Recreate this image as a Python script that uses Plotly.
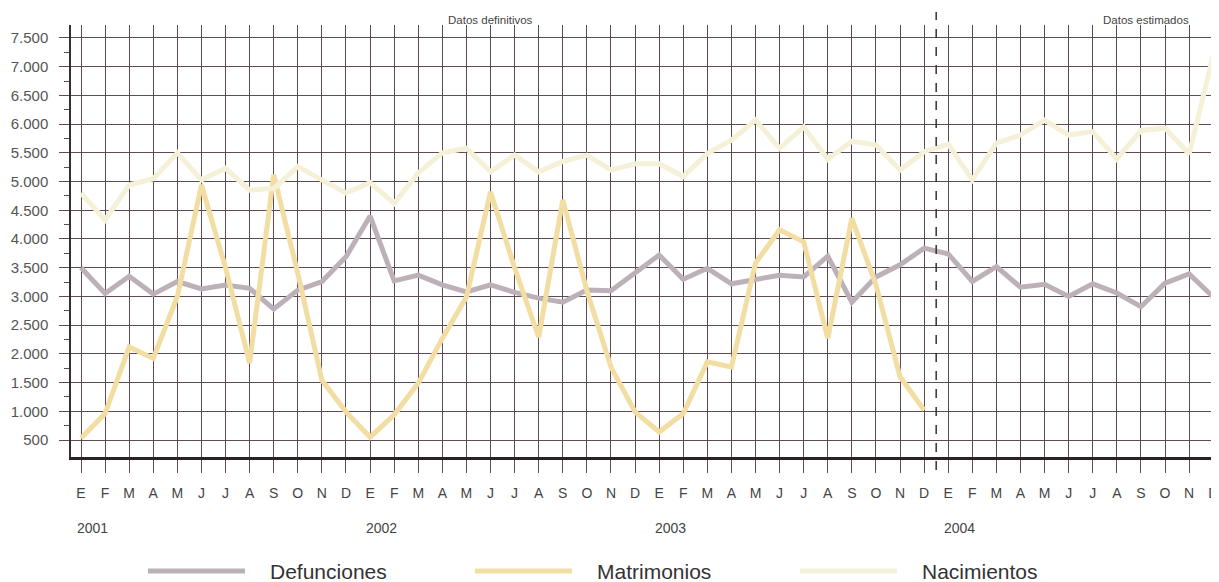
import plotly.graph_objects as go

months = ["E", "F", "M", "A", "M", "J", "J", "A", "S", "O", "N", "D"] * 4
years = ["2001", "2002", "2003", "2004"]

defunciones = [3500, 3050, 3350, 3040, 3260, 3130, 3200, 3140, 2780, 3110, 3260, 3690,
               4400, 3270, 3370, 3200, 3080, 3200, 3070, 2970, 2900, 3110, 3100, 3400,
               3720, 3300, 3490, 3220, 3290, 3370, 3340, 3700, 2900, 3340, 3550, 3840,
               3740, 3260, 3520, 3160, 3210, 3000, 3220, 3060, 2820, 3230, 3390, 2990]

matrimonios = [530, 960, 2120, 1920, 3000, 4940, 3500, 1840, 5120, 3400, 1540, 990,
               550, 940, 1490, 2270, 2990, 4820, 3500, 2290, 4680, 3100, 1770, 990,
               640, 960, 1860, 1770, 3580, 4160, 3950, 2270, 4360, 3200, 1600, 1020]

nacimientos = [4800, 4330, 4940, 5050, 5500, 5030, 5230, 4850, 4880, 5260, 5030, 4800,
               4980, 4620, 5150, 5500, 5580, 5170, 5460, 5170, 5350, 5460, 5200, 5310,
               5310, 5090, 5490, 5720, 6070, 5580, 5950, 5390, 5700, 5640, 5200, 5520,
               5650, 5030, 5670, 5810, 6070, 5810, 5870, 5390, 5890, 5930, 5480, 7200]

y_ticks = [500, 1000, 1500, 2000, 2500, 3000, 3500, 4000, 4500, 5000, 5500, 6000, 6500, 7000, 7500]
y_labels = ["500", "1.000", "1.500", "2.000", "2.500", "3.000", "3.500", "4.000",
            "4.500", "5.000", "5.500", "6.000", "6.500", "7.000", "7.500"]

series_names = ["Defunciones", "Matrimonios", "Nacimientos"]
colors = ["#bdb1b9", "#f2dda2", "#f5f1d9"]

GRID = "#5c4a55"
TEXT = "#444444"
FONT = "Liberation Sans, Arial, sans-serif"
NARROW = "Liberation Sans Narrow, Arial Narrow, " + FONT

# page body has an 8px margin: figure is offset by (8, 8) in the window
OFF = 8
W, H = 1219 - OFF, 582 - OFF
PL, PT, PB, PR = 71, 25, 457, 1219          # plot-area edges in window pixels
PW, PH = PR - PL, PB - PT


def px(xw):
    return (xw - PL) / PW


def py(yw):
    return (PB - yw) / PH


x_idx = list(range(len(months)))

fig = go.Figure()
for name, vals, col in zip(series_names, [defunciones, matrimonios, nacimientos], colors):
    fig.add_trace(go.Scatter(
        x=x_idx[:len(vals)], y=vals, mode="lines", name=name,
        line=dict(color=col, width=5), showlegend=False, hoverinfo="skip"))

fig.update_layout(
    width=W, height=H,
    margin=dict(l=PL - OFF, r=0, t=PT - OFF, b=H - (PB - OFF), autoexpand=False),
    paper_bgcolor="white", plot_bgcolor="white",
    font=dict(family=FONT, color=TEXT),
    xaxis=dict(
        range=[-0.415, 47.24], tickmode="array", tickvals=x_idx, ticktext=months,
        showgrid=True, gridcolor=GRID, gridwidth=1,
        ticks="outside", ticklen=13, tickcolor=GRID, tickwidth=1,
        ticklabelstandoff=8,
        tickfont=dict(size=14, color="#444444", family=FONT),
        showline=True, linecolor="#2a2226", linewidth=2.5,
        zeroline=False, fixedrange=True,
    ),
    yaxis=dict(
        range=[204, 7726], tickmode="array", tickvals=y_ticks, ticktext=y_labels,
        showgrid=True, gridcolor=GRID, gridwidth=1,
        ticks="outside", ticklen=10, tickcolor=GRID, tickwidth=1,
        ticklabelstandoff=8,
        tickfont=dict(size=15, color="#555555", family=FONT),
        showline=True, linecolor="#3a2e34", linewidth=1.5,
        zeroline=False, fixedrange=True,
        minor=dict(tickvals=[v + 250 for v in y_ticks[:-1]], ticks="outside",
                   ticklen=5, tickcolor=GRID, tickwidth=1, showgrid=False),
    ),
)

# dashed separator between definitive and estimated data
fig.add_shape(type="line", xref="x", yref="paper", x0=35.5, x1=35.5,
              y0=py(470), y1=py(12),
              line=dict(color="#3a2e34", width=1.5, dash="dash"))

fig.add_annotation(text="Datos definitivos", xref="paper", yref="paper",
                   x=px(490), y=py(20), xanchor="center", yanchor="middle", showarrow=False,
                   font=dict(size=11.5, color="#444444", family=NARROW))
fig.add_annotation(text="Datos estimados", xref="paper", yref="paper",
                   x=px(1146), y=py(20), xanchor="center", yanchor="middle", showarrow=False,
                   font=dict(size=11.5, color="#444444", family=NARROW))

# year labels
for i, yr in enumerate(years):
    fig.add_annotation(text=yr, xref="x", yref="paper", x=i * 12, y=py(528),
                       xanchor="left", yanchor="middle", xshift=-6, showarrow=False,
                       font=dict(size=14, color="#444444", family=FONT))

# custom legend
leg_y = py(571)
leg_x = [(148, 245, 268), (475, 572, 595), (800, 897, 920)]
for (a, b, t), name, col in zip(leg_x, series_names, colors):
    fig.add_shape(type="line", xref="paper", yref="paper",
                  x0=px(a), x1=px(b), y0=leg_y, y1=leg_y,
                  line=dict(color=col, width=5))
    fig.add_annotation(text=name, xref="paper", yref="paper", x=px(t), y=leg_y,
                       xanchor="left", yanchor="middle", showarrow=False,
                       font=dict(size=21, color="#333333", family=NARROW))

fig.write_html("out.html")
